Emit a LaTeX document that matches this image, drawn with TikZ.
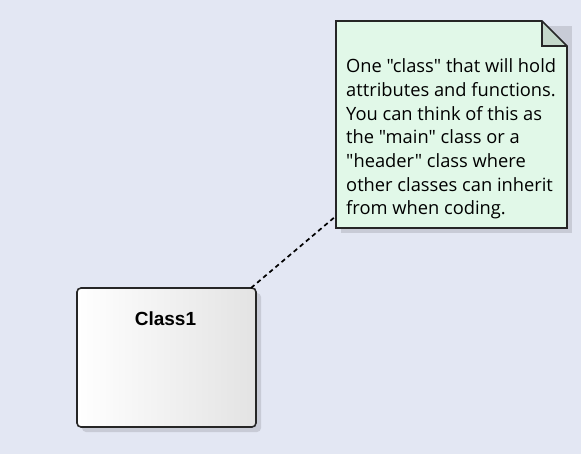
\documentclass[tikz,border=0pt]{standalone}
\usepackage{fontspec}
\usetikzlibrary{calc}
\newfontfamily\notefont{Open Sans}
\newfontfamily\classfont{Liberation Sans}
\definecolor{bgcol}{RGB}{227,231,243}
\definecolor{notecol}{RGB}{225,248,232}
\definecolor{foldcol}{RGB}{196,216,202}
\definecolor{shadowcol}{RGB}{200,203,214}
\tikzset{
  shadow/.style={fill=shadowcol,draw=none},
  edge/.style={line width=1.6,black!85},
  notetext/.style={font=\notefont\fontsize{18.3}{23.7}\selectfont,align=left,
                   inner sep=0,anchor=north west},
  link/.style={line width=1.7,dash pattern=on 4.5 off 3.5}
}

\begin{document}
\begin{tikzpicture}[x=1pt,y=-1pt]
  \def\fold{25}
  % BACKGROUND
  \fill[bgcol] (0,0) rectangle (581,454);
  \useasboundingbox (0,0) rectangle (581,454);

  % CLASS
  \coordinate (c1) at (77,288);
  \coordinate (c2) at (256,427);
  \fill[shadow,rounded corners=4] ($(c1)+(5,5)$) rectangle ($(c2)+(5,5)$);
  \shade[left color=white,right color=black!11,rounded corners=4] (c1) rectangle (c2);
  \draw[edge,rounded corners=4] (c1) rectangle (c2);
  \node[font=\classfont\bfseries\fontsize{19}{22}\selectfont] (class) at (165.5,319) {Class1};
  \coordinate (cc) at (251,288);

  % NOTE
  \coordinate (n1) at (336,21);
  \coordinate (n2) at (567,228);
  \fill[shadow] ($(n1)+(5,5)$) rectangle ($(n2)+(5,5)$);
  \fill[notecol] (n1) -- (567-\fold,21) -- (567,21+\fold) -- (n2) -- (336,228) -- cycle;
  \fill[foldcol] (567-\fold,21) -- (567-\fold,21+\fold) -- (567,21+\fold) -- cycle;
  \draw[edge,line join=miter] (n1) -- (567-\fold,21) -- (567,21+\fold) -- (n2) -- (336,228) -- cycle;
  \draw[edge] (567-\fold,21) -- (567-\fold,21+\fold) -- (567,21+\fold);
  \node[notetext] (note) at (346,58.5) {One "class" that will hold\\attributes and functions.\\You can think of this as\\the "main" class or a\\"header" class where\\other classes can inherit\\from when coding.};
  \coordinate (nc) at (336,216);

  % LINK
  \draw[link] (cc) -- (nc);
\end{tikzpicture}
\end{document}
